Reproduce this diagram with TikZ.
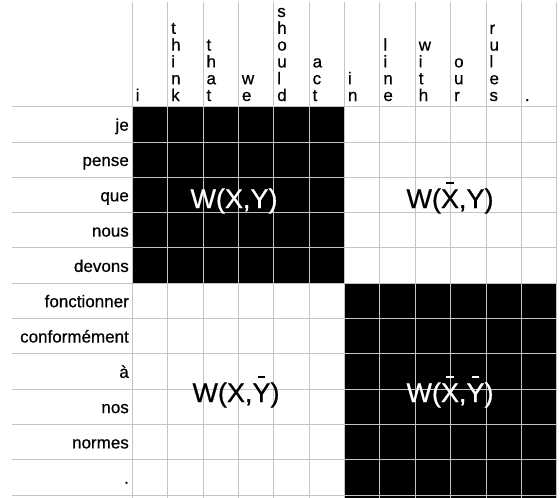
\documentclass[tikz,border=0pt]{standalone}
\usepackage{fontspec}
\setmainfont{Liberation Sans}[FakeBold=0.6]
\newcommand\vw[1]{\vbox{\hsize=30pt\parindent=0pt\parskip=0pt\baselineskip=16.8pt\lineskiplimit=-100pt\def\\{\par}\leavevmode#1}}
\newcommand\ovl[1]{\setbox0=\hbox{#1}\rlap{\hbox to \wd0{\hss\raisebox{0.9em}{\rule{0.27em}{0.06em}}\hss}}\box0}
\definecolor{gridc}{HTML}{C4C4C4}
\tikzset{
  hdr/.style={anchor=base west, inner sep=0pt, font=\fontsize{17}{16.8}\selectfont},
  rl/.style={anchor=base east, inner sep=0pt, font=\fontsize{17}{20}\selectfont},
  big/.style={anchor=base, inner sep=0pt, font=\fontsize{27}{30}\selectfont},
  gline/.style={draw=gridc, line width=1pt}
}
\begin{document}
\begin{tikzpicture}[x=1pt,y=-1pt]
\useasboundingbox (0,0) rectangle (560,498);
\def\xo{132.3}\def\cw{35.37}\def\yo{106.7}\def\rh{35.3}
% black blocks
\fill[black] (\xo,\yo) rectangle ({\xo+6*\cw},{\yo+5*\rh});
\fill[black] ({\xo+6*\cw},{\yo+5*\rh}) rectangle ({\xo+12*\cw},498);
% grid
\foreach \k in {0,...,11}
  \draw[gline] (12,{\yo+\k*\rh}) -- ({\xo+12*\cw},{\yo+\k*\rh});
\foreach \i in {0,...,12}
  \draw[gline] ({\xo+\i*\cw},2) -- ({\xo+\i*\cw},498);
% column headers
\foreach \w [count=\i from 0] in {i, t\\h\\i\\n\\k, t\\h\\a\\t, w\\e, s\\h\\o\\u\\l\\d, a\\c\\t, i\\n, l\\i\\n\\e, w\\i\\t\\h, o\\u\\r, r\\u\\l\\e\\s, .}
  \node[hdr] (h\i) at ({\xo+\i*\cw+3.3},101) {\vw{\w}};
% row labels
\foreach \r [count=\j from 0] in {je, pense, que, nous, devons, fonctionner, conformément, à, nos, normes, .}
  \node[rl] (r\j) at (129,{\yo+\j*\rh+24}) {\r};
% block labels
\node[big, text=white] (wxy) at (234,208) {W(X,Y)};
\node[big, text=black] (wxby) at (450,208) {W(\ovl{X},Y)};
\node[big, text=black] (wxyb) at (236,402) {W(X,\ovl{Y})};
\node[big, text=white] (wxbyb) at (450,402) {W(\ovl{X},\ovl{Y})};
\end{tikzpicture}
\end{document}
